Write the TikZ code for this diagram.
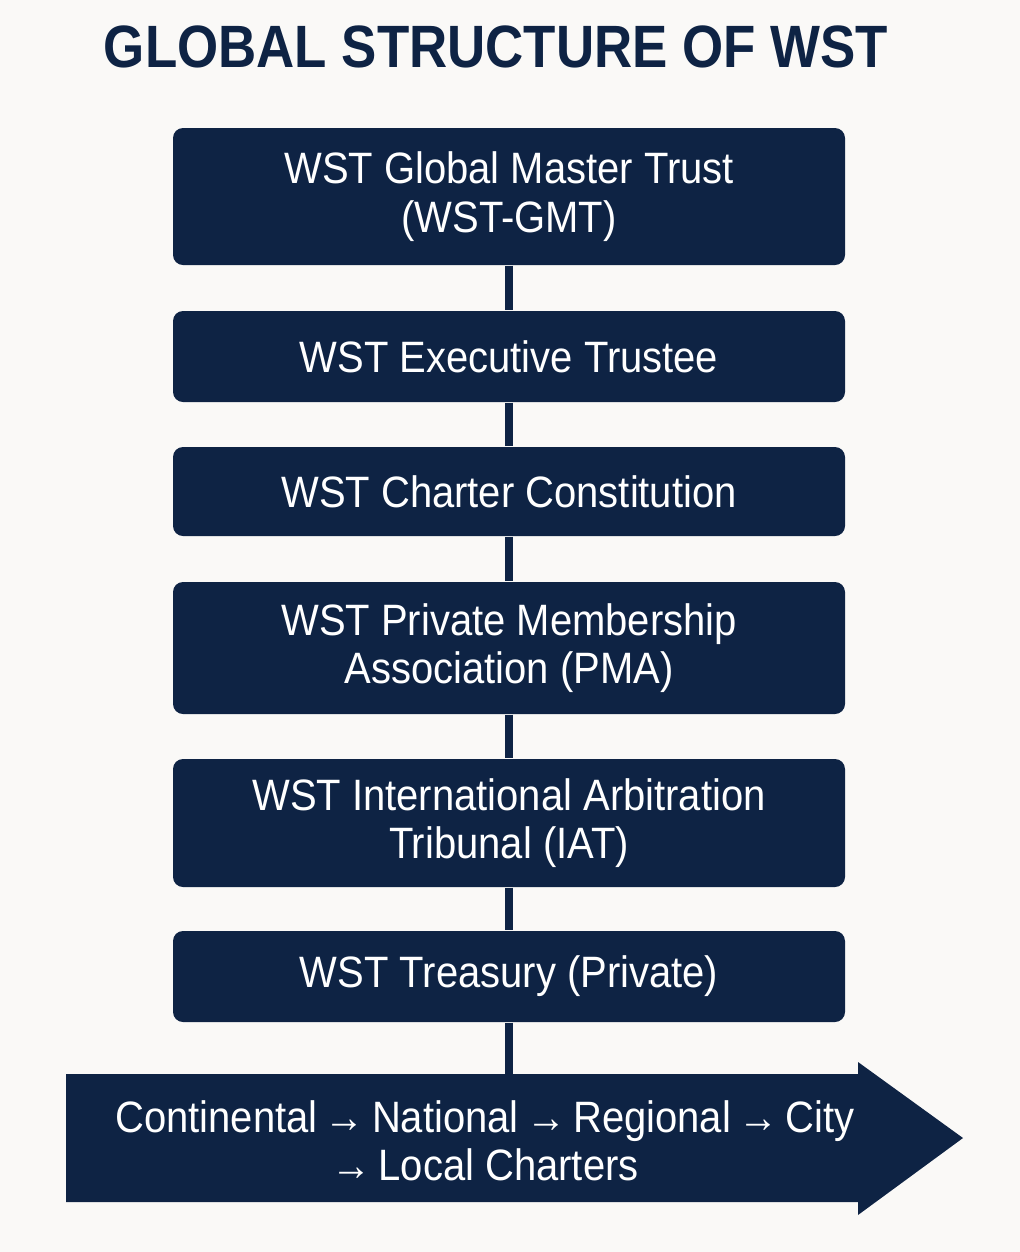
\documentclass[tikz,border=0pt]{standalone}
\usepackage{fontspec}
\setmainfont{Liberation Sans}
\newfontfamily\wstfont[FakeStretch=0.91]{Liberation Sans}
\usepackage{xcolor}
\usepackage{tikz}
\usetikzlibrary{positioning, calc}
\definecolor{wstnavy}{RGB}{14,35,68}
\definecolor{paper}{RGB}{250,249,247}

\begin{document}
\begin{tikzpicture}[
    tier/.style={rectangle, rounded corners=0.1cm, fill=wstnavy, text=white, minimum width=6.72cm, align=center, font=\wstfont\fontsize{12.5}{13.8}\selectfont},
    link/.style={draw=wstnavy, line width=0.08cm}
]
    % Background
    \fill[paper] (0,0) rectangle (10.2,-12.52);
    \useasboundingbox (0,0) rectangle (10.2,-12.52);

    % Title
    \node[text=wstnavy, font=\fontsize{17}{20}\bfseries\selectfont, xscale=0.885] (title) at (4.96,-0.465) {GLOBAL STRUCTURE OF WST};

    % Tiers
    \node[tier, minimum height=1.37cm] (gmt) at (5.09,-1.965) {WST Global Master Trust\\(WST-GMT)};
    \node[tier, minimum height=0.91cm] (trustee) at (5.09,-3.565) {WST Executive Trustee};
    \node[tier, minimum height=0.89cm] (charter) at (5.09,-4.915) {WST Charter Constitution};
    \node[tier, minimum height=1.32cm] (pma) at (5.09,-6.48) {WST Private Membership\\Association (PMA)};
    \node[tier, minimum height=1.28cm] (iat) at (5.09,-8.23) {WST International Arbitration\\Tribunal (IAT)};
    \node[tier, minimum height=0.91cm] (treasury) at (5.09,-9.765) {WST Treasury (Private)};

    % Charter levels arrow
    \fill[wstnavy] (0.66,-10.74) -- (8.58,-10.74) -- (8.58,-10.62) -- (9.63,-11.38)
        -- (8.58,-12.15) -- (8.58,-12.02) -- (0.66,-12.02) -- cycle;
    \coordinate (arrowtop) at (5.09,-10.74);
    \node[text=white, align=center, font=\wstfont\fontsize{12.5}{13.8}\selectfont] (levels) at (4.85,-11.41)
        {Continental\,→\,National\,→\,Regional\,→\,City\\→\,Local Charters};

    % Connections
    \draw[link] (gmt) -- (trustee);
    \draw[link] (trustee) -- (charter);
    \draw[link] (charter) -- (pma);
    \draw[link] (pma) -- (iat);
    \draw[link] (iat) -- (treasury);
    \draw[link] (treasury) -- (arrowtop);
\end{tikzpicture}
\end{document}
